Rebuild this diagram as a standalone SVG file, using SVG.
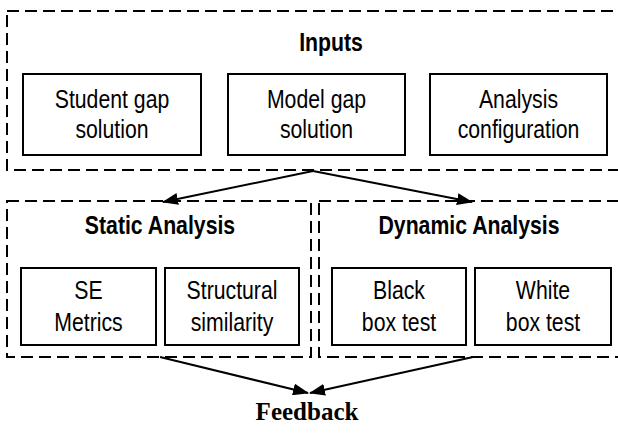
<svg xmlns="http://www.w3.org/2000/svg" width="618" height="434" viewBox="0 0 618 434">
  <defs>
    <marker id="arrow" viewBox="0 0 16 12" refX="15" refY="6" markerWidth="16" markerHeight="12" markerUnits="userSpaceOnUse" orient="auto">
      <path d="M0,0 L16,6 L0,12 Z" fill="#000"/>
    </marker>
    <style>
      .group { fill: none; stroke: #000; stroke-width: 2; stroke-dasharray: 12 6; }
      .box { fill: #fff; stroke: #000; stroke-width: 2; }
      .lbl { font-family: "Liberation Sans", Arial, sans-serif; font-size: 25px; fill: #000; text-anchor: middle; }
      .ttl { font-family: "Liberation Sans", Arial, sans-serif; font-size: 25px; font-weight: bold; fill: #000; text-anchor: middle; }
      .fb { font-family: "Liberation Serif", "Times New Roman", serif; font-size: 25px; font-weight: bold; fill: #000; text-anchor: middle; }
      .edge { fill: none; stroke: #000; stroke-width: 2; marker-end: url(#arrow); }
    </style>
  </defs>
  <rect width="618" height="434" fill="#fff"/>

  <!-- Inputs group -->
  <g id="inputs">
    <rect class="group" x="7" y="11" width="650" height="159"/>
    <text class="ttl" transform="translate(331,51) scale(0.85,1)">Inputs</text>
  </g>
  <g id="student-solution">
    <rect class="box" x="23" y="74" width="178" height="81"/>
    <text class="lbl" transform="translate(112,108) scale(0.85,1)">Student gap</text>
    <text class="lbl" transform="translate(112,138) scale(0.85,1)">solution</text>
  </g>
  <g id="model-solution">
    <rect class="box" x="228" y="74" width="177" height="81"/>
    <text class="lbl" transform="translate(316.5,108) scale(0.85,1)">Model gap</text>
    <text class="lbl" transform="translate(316.5,138) scale(0.85,1)">solution</text>
  </g>
  <g id="analysis-config">
    <rect class="box" x="430" y="74" width="177" height="81"/>
    <text class="lbl" transform="translate(518.5,108) scale(0.85,1)">Analysis</text>
    <text class="lbl" transform="translate(518.5,138) scale(0.85,1)">configuration</text>
  </g>

  <!-- Static analysis group -->
  <g id="static-analysis">
    <rect class="group" x="7" y="201" width="304" height="156"/>
    <text class="ttl" transform="translate(160,234) scale(0.85,1)">Static Analysis</text>
  </g>
  <g id="se-metrics">
    <rect class="box" x="21" y="268" width="135" height="77"/>
    <text class="lbl" transform="translate(88.5,299) scale(0.85,1)">SE</text>
    <text class="lbl" transform="translate(88.5,331) scale(0.85,1)">Metrics</text>
  </g>
  <g id="structural-similarity">
    <rect class="box" x="165" y="268" width="134" height="77"/>
    <text class="lbl" transform="translate(232,299) scale(0.85,1)">Structural</text>
    <text class="lbl" transform="translate(232,331) scale(0.85,1)">similarity</text>
  </g>

  <!-- Dynamic analysis group -->
  <g id="dynamic-analysis">
    <rect class="group" x="319" y="201" width="310" height="156"/>
    <text class="ttl" transform="translate(469,234) scale(0.85,1)">Dynamic Analysis</text>
  </g>
  <g id="black-box">
    <rect class="box" x="332" y="268" width="134" height="77"/>
    <text class="lbl" transform="translate(399,299) scale(0.85,1)">Black</text>
    <text class="lbl" transform="translate(399,331) scale(0.85,1)">box test</text>
  </g>
  <g id="white-box">
    <rect class="box" x="475" y="268" width="136" height="77"/>
    <text class="lbl" transform="translate(543,299) scale(0.85,1)">White</text>
    <text class="lbl" transform="translate(543,331) scale(0.85,1)">box test</text>
  </g>

  <!-- Feedback -->
  <g id="feedback">
    <text class="fb" x="307" y="420">Feedback</text>
  </g>

  <!-- Connectors -->
  <g id="connectors">
    <line class="edge" x1="313" y1="171" x2="163" y2="202"/>
    <line class="edge" x1="313" y1="171" x2="472" y2="202"/>
    <line class="edge" x1="160" y1="357" x2="308" y2="393"/>
    <line class="edge" x1="473" y1="357" x2="310" y2="393"/>
  </g>
</svg>
